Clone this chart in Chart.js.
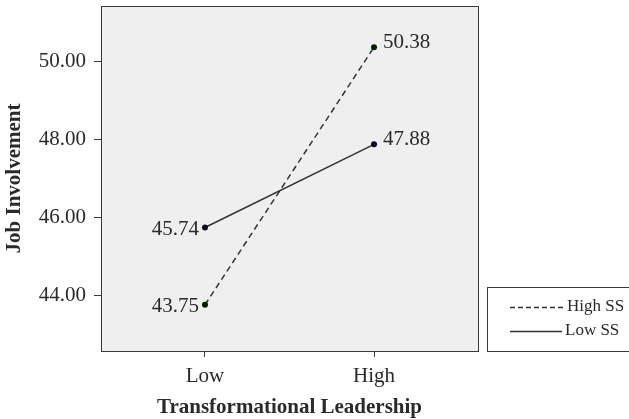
<!DOCTYPE html>
<html>
<head>
<meta charset="utf-8">
<script src="https://cdn.jsdelivr.net/npm/chart.js@4.4.1/dist/chart.umd.min.js"></script>
<style>
  html, body { margin: 0; padding: 0; background: #ffffff; }
  #wrap { width: 629px; height: 419px; }
</style>
</head>
<body>
<div id="wrap"><canvas id="c" width="629" height="419"></canvas></div>
<script>
// ---- data ----
const categories = ["Low", "High"];
const seriesNames = ["High SS", "Low SS"];
const highSS = [43.75, 50.38];
const lowSS = [45.74, 47.88];
const yTicks = [44, 46, 48, 50];
const yRange = [42.56, 51.44];
const xTitle = "Transformational Leadership";
const yTitle = "Job Involvement";

const SERIF = "'Liberation Serif', 'Times New Roman', serif";
const TEXT = '#2a2a2a';

const toPts = arr => arr.map((v, i) => ({ x: i, y: v }));

const plotBg = {
  id: 'plotBg',
  beforeDraw(chart) {
    const { ctx, chartArea: a } = chart;
    ctx.save();
    ctx.fillStyle = '#efefef';
    ctx.fillRect(a.left, a.top, a.right - a.left, a.bottom - a.top);
    ctx.restore();
  },
  afterDraw(chart) {
    const { ctx, chartArea: a } = chart;
    ctx.save();
    ctx.strokeStyle = '#3a3a3a';
    ctx.lineWidth = 1;
    ctx.strokeRect(a.left + 0.5, a.top + 0.5, a.right - a.left, a.bottom - a.top);
    ctx.restore();
  }
};

const valueLabels = {
  id: 'valueLabels',
  afterDatasetsDraw(chart) {
    const { ctx } = chart;
    ctx.save();
    ctx.font = "21px " + SERIF;
    ctx.fillStyle = TEXT;
    chart.data.datasets.forEach((ds, di) => {
      const meta = chart.getDatasetMeta(di);
      meta.data.forEach((pt, i) => {
        const v = ds.data[i].y.toFixed(2);
        if (i === 0) {
          ctx.textAlign = 'right';
          ctx.textBaseline = 'middle';
          ctx.fillText(v, pt.x - 6, pt.y + 2);
        } else {
          ctx.textAlign = 'left';
          ctx.textBaseline = 'middle';
          ctx.fillText(v, pt.x + 9, pt.y - 5);
        }
      });
    });
    ctx.restore();
  }
};

const boxLegend = {
  id: 'boxLegend',
  afterDraw(chart) {
    const { ctx, chartArea: a } = chart;
    const left = a.right + 9, bottom = a.bottom, h = 64;
    ctx.save();
    ctx.strokeStyle = '#3a3a3a';
    ctx.lineWidth = 1;
    ctx.strokeRect(left + 0.5, bottom - h + 0.5, 200, h);
    ctx.font = "17px " + SERIF;
    ctx.fillStyle = TEXT;
    ctx.textAlign = 'left';
    ctx.textBaseline = 'middle';
    const rows = [bottom - h + 20, bottom - h + 44];
    chart.data.datasets.forEach((ds, di) => {
      const y = rows[di];
      ctx.beginPath();
      ctx.setLineDash(di === 0 ? [5, 3] : []);
      ctx.lineWidth = 1.3;
      ctx.strokeStyle = '#333';
      ctx.moveTo(left + 23, y + 0.5);
      ctx.lineTo(left + (di === 0 ? 79 : 75), y + 0.5);
      ctx.stroke();
      ctx.setLineDash([]);
      ctx.fillText(ds.label, left + (di === 0 ? 80 : 78), y);
    });
    ctx.restore();
  }
};

new Chart(document.getElementById('c'), {
  type: 'line',
  data: {
    datasets: [
      {
        label: seriesNames[0],
        data: toPts(highSS),
        borderColor: '#333333',
        borderWidth: 1.5,
        borderDash: [6, 4],
        pointRadius: 3,
        pointBackgroundColor: '#0b1a0b',
        pointBorderColor: '#0b1a0b',
        pointBorderWidth: 0
      },
      {
        label: seriesNames[1],
        data: toPts(lowSS),
        borderColor: '#333333',
        borderWidth: 1.5,
        pointRadius: 3,
        pointBackgroundColor: '#0b0b1a',
        pointBorderColor: '#0b0b1a',
        pointBorderWidth: 0
      }
    ]
  },
  options: {
    responsive: false,
    animation: false,
    devicePixelRatio: 1,
    layout: { padding: { top: 6, right: 151, left: 0, bottom: 0 } },
    plugins: { legend: { display: false }, tooltip: { enabled: false } },
    scales: {
      x: {
        type: 'linear',
        min: -0.615,
        max: 1.615,
        afterBuildTicks(scale) { scale.ticks = categories.map((c, i) => ({ value: i })); },
        afterFit(scale) { scale.height = 68; scale.paddingLeft = 0; scale.paddingRight = 0; },
        ticks: {
          callback: (v) => categories[v],
          font: { family: SERIF, size: 21 },
          color: TEXT,
          padding: 7,
          maxRotation: 0
        },
        grid: { display: true, drawOnChartArea: false, drawTicks: true, tickLength: 6, color: '#3a3a3a', tickColor: '#3a3a3a' },
        border: { display: false },
        title: {
          display: true,
          text: xTitle,
          font: { family: SERIF, size: 21, weight: 'bold' },
          color: TEXT,
          padding: { top: 0, bottom: -1 }
        }
      },
      y: {
        type: 'linear',
        min: yRange[0],
        max: yRange[1],
        afterBuildTicks(scale) { scale.ticks = yTicks.map(v => ({ value: v })); },
        afterFit(scale) { scale.width = 101; scale.paddingTop = 0; scale.paddingBottom = 0; },
        ticks: {
          callback: (v) => Number(v).toFixed(2),
          font: { family: SERIF, size: 21 },
          color: TEXT,
          padding: 8
        },
        grid: { display: true, drawOnChartArea: false, drawTicks: true, tickLength: 7, color: '#3a3a3a', tickColor: '#3a3a3a' },
        border: { display: false },
        title: {
          display: true,
          text: yTitle,
          font: { family: SERIF, size: 21, weight: 'bold' },
          color: TEXT,
          padding: { top: 2, bottom: 0 }
        }
      }
    }
  },
  plugins: [plotBg, valueLabels, boxLegend]
});
</script>
</body>
</html>
